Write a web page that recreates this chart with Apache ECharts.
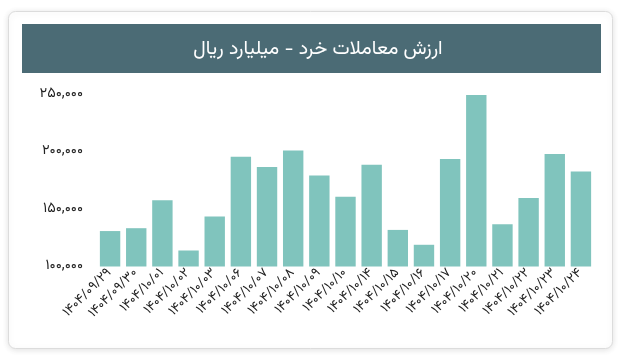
<!DOCTYPE html>
<html><head><meta charset="utf-8">
<script src="https://cdn.jsdelivr.net/npm/echarts@6/dist/echarts.min.js"></script>
<style>html,body{margin:0;padding:0;background:#fff;}#c{width:636px;height:362px;}</style>
</head><body><div id="c"></div>
<script>
const titleText = 'ارزش معاملات خرد - میلیارد ریال';
const categories = ['1404/09/29','1404/09/30','1404/10/01','1404/10/02','1404/10/03','1404/10/06','1404/10/07','1404/10/08','1404/10/09','1404/10/10','1404/10/14','1404/10/15','1404/10/16','1404/10/17','1404/10/20','1404/10/21','1404/10/22','1404/10/23','1404/10/24'];
const values = [131000,133500,158000,114000,143700,196000,187000,201500,179500,161000,189000,132000,119000,194000,250000,137000,160000,198500,183000];
const yTicks = {min:100000, max:250000, interval:50000};

const FONT = "Vazirmatn, 'Noto Sans Arabic', 'Noto Naskh Arabic', 'DejaVu Sans'";
const fa = s => String(s).replace(/[0-9]/g, d => '۰۱۲۳۴۵۶۷۸۹'[d]);
const fmt = v => fa(v.toString().replace(/\B(?=(\d{3})+(?!\d))/g, ','));

const chart = echarts.init(document.getElementById('c'), null, {renderer:'canvas'});
chart.setOption({
  animation:false,
  backgroundColor:'#ffffff',
  graphic:[
    {type:'rect', z:-10, shape:{x:8.5,y:11.5,width:604,height:337,r:7}, style:{fill:'#fff',stroke:'#dcdcdc',lineWidth:1,shadowBlur:6,shadowColor:'rgba(0,0,0,0.12)',shadowOffsetY:1}},
    {type:'rect', z:-9, shape:{x:22,y:24,width:579,height:49}, style:{fill:'#4b6b75'}}
  ],
  title:{text:titleText, left:'center', top:36, textStyle:{color:'#ffffff',fontSize:19.5,fontWeight:'normal',fontFamily:FONT}},
  grid:{left:97, right:42, top:95, bottom:95.5, containLabel:false},
  xAxis:{type:'category', data:categories,
    axisLine:{show:false}, axisTick:{show:false},
    axisLabel:{interval:0, rotate:45, margin:5, fontSize:13.5, color:'#222', fontFamily:FONT, formatter:v=>fa(v)}},
  yAxis:{type:'value', min:yTicks.min, max:yTicks.max, interval:yTicks.interval,
    axisLine:{show:false}, axisTick:{show:false}, splitLine:{show:false},
    axisLabel:{margin:14, fontSize:14.5, color:'#222', fontFamily:FONT, formatter:v=>fmt(v)}},
  series:[{type:'bar', data:values, barCategoryGap:'22%', itemStyle:{color:'#80c4bd'}}]
});
</script></body></html>
